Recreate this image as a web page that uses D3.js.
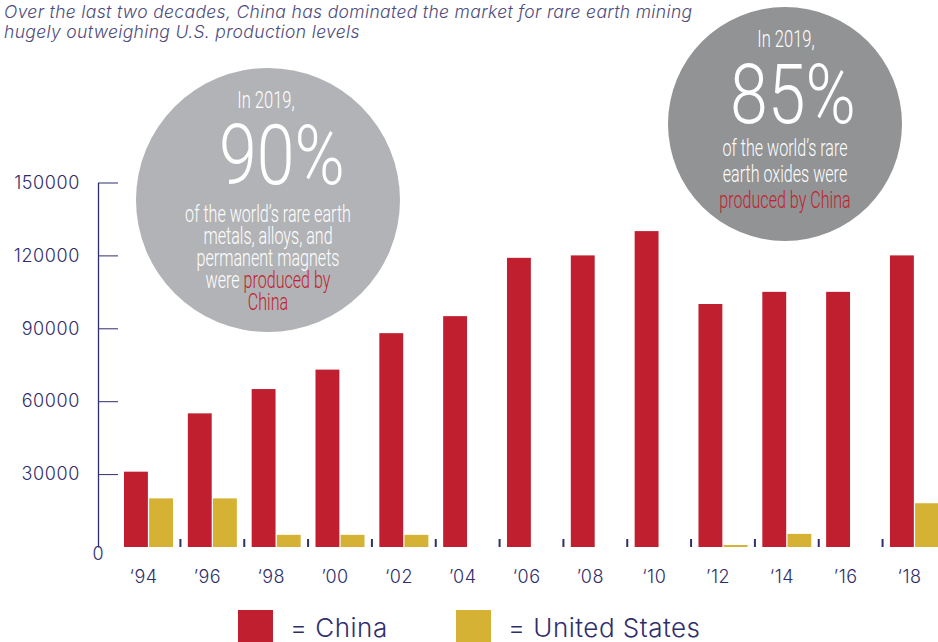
<!DOCTYPE html>
<html>
<head>
<meta charset="utf-8">
<script src="https://cdn.jsdelivr.net/npm/d3@7"></script>
<style>
  body { margin: 0; background: #fff; }
  svg { display: block; }
</style>
</head>
<body>
<svg id="chart" width="938" height="642"></svg>
<script>
// data (tonnes of rare earth production)
const years = ["1994", "1996", "1998", "2000", "2002", "2004", "2006", "2008", "2010", "2012", "2014", "2016", "2018"];
const yearLabels = ["‘94", "’96", "‘98", "’00", "‘02", "’04", "‘06", "’08", "‘10", "’12", "‘14", "’16", "‘18"];
const china = [31000, 55000, 65000, 73000, 88000, 95000, 119000, 120000, 130000, 100000, 105000, 105000, 120000];
const unitedStates = [20000, 20000, 5000, 5000, 5000, 0, 0, 0, 0, 800, 5400, 0, 18000];
const yTicks = [30000, 60000, 90000, 120000, 150000];
const seriesNames = ["China", "United States"];

const navy = "#2f2e6c";
const red = "#c01f2f";
const gold = "#d5b233";

let svg = d3.select("#chart");

let x0 = d3.scaleBand()
    .domain(years)
    .range([124, 939])
    .paddingInner(0.232)
    .paddingOuter(0);

let x1 = d3.scaleBand()
    .domain(seriesNames)
    .range([0, x0.bandwidth()])
    .paddingInner(0.05);

let y = d3.scaleLinear()
    .domain([0, 150000])
    .range([547, 182.5]);

let color = d3.scaleOrdinal()
    .domain(seriesNames)
    .range([red, gold]);

// title
let title = svg.append("text")
    .style("font-family", "Inter, 'Open Sans', sans-serif")
    .style("font-style", "italic")
    .style("font-weight", 300)
    .style("font-size", "17.5px")
    .style("letter-spacing", "0.35px")
    .style("fill", "#4d4b7c");
title.append("tspan").attr("x", 4).attr("y", 18)
    .text("Over the last two decades, China has dominated the market for rare earth mining");
title.append("tspan").attr("x", 4).attr("y", 38)
    .text("hugely outweighing U.S. production levels");

// callout circles
function condensedLine(g, cx, cy, size, sx, parts, weight) {
    let t = g.append("g")
        .attr("transform", `translate(${cx},${cy}) scale(${sx},1)`)
        .append("text")
        .attr("text-anchor", "middle")
        .style("font-family", "Roboto, 'Liberation Sans', sans-serif")
        .style("font-weight", weight || 300)
        .style("font-size", size + "px");
    parts.forEach(function(p) {
        t.append("tspan").style("fill", p[1] || "#fff").text(p[0]);
    });
}

let callouts = svg.append("g");

callouts.append("circle")
    .attr("cx", 268).attr("cy", 200).attr("r", 132)
    .style("fill", "#b2b3b6");
condensedLine(callouts, 266, 108, 23, 0.72, [["In 2019,"]]);
condensedLine(callouts, 282, 184, 83, 0.82, [["90%"]], 300);
condensedLine(callouts, 268, 222, 23, 0.7, [["of the world’s rare earth"]]);
condensedLine(callouts, 268, 244, 23, 0.7, [["metals, alloys, and"]]);
condensedLine(callouts, 268, 266, 23, 0.7, [["permanent magnets"]]);
condensedLine(callouts, 268, 288, 23, 0.7, [["were "], ["produced by", red]]);
condensedLine(callouts, 268, 310, 23, 0.7, [["China", red]]);

callouts.append("circle")
    .attr("cx", 785).attr("cy", 124).attr("r", 117)
    .style("fill", "#919395");
condensedLine(callouts, 786, 47, 23, 0.72, [["In 2019,"]]);
condensedLine(callouts, 793, 123, 83, 0.82, [["85%"]], 300);
condensedLine(callouts, 785, 156, 23, 0.7, [["of the world’s rare"]]);
condensedLine(callouts, 785, 182, 23, 0.7, [["earth oxides were"]]);
condensedLine(callouts, 785, 208, 23, 0.7, [["produced by China", red]]);

// y axis
let yAxisSettings = d3.axisLeft(y)
    .tickValues(yTicks)
    .tickSizeInner(-20)
    .tickSizeOuter(0)
    .tickPadding(18)
    .tickFormat(d3.format("d"));

let yAxis = svg.append("g")
    .attr("transform", "translate(98,0)")
    .call(yAxisSettings);

yAxis.select(".domain").style("stroke", navy).style("stroke-width", 1.3);
yAxis.selectAll(".tick line").style("stroke", navy).style("stroke-width", 1);
yAxis.selectAll(".tick text")
    .style("font-family", "Inter, 'Open Sans', sans-serif")
    .style("font-weight", 300)
    .style("font-size", "18px")
    .style("letter-spacing", "0.6px")
    .style("fill", navy);

svg.append("text")
    .attr("x", 98)
    .attr("y", 560)
    .attr("text-anchor", "middle")
    .style("font-family", "Inter, 'Open Sans', sans-serif")
    .style("font-weight", 300)
    .style("font-size", "18px")
    .style("fill", navy)
    .text("0");

// bars
let rows = years.map(function(yr, i) {
    return { year: yr, values: [
        { key: "China", value: china[i] },
        { key: "United States", value: unitedStates[i] }
    ]};
});

let groups = svg.append("g")
    .selectAll("g")
    .data(rows)
    .join("g")
    .attr("transform", function(d) { return `translate(${x0(d.year)},0)`; });

groups.selectAll("rect")
    .data(function(d) { return d.values.filter(function(v) { return v.value > 0; }); })
    .join("rect")
    .attr("x", function(d) { return x1(d.key); })
    .attr("y", function(d) { return y(d.value); })
    .attr("width", x1.bandwidth())
    .attr("height", function(d) { return y(0) - y(d.value); })
    .style("fill", function(d) { return color(d.key); });

// little separators between year groups
let step = x0.step();
svg.append("g")
    .selectAll("line")
    .data(years.slice(0, -1))
    .join("line")
    .attr("x1", function(d) { return x0(d) + x0.bandwidth() + (step - x0.bandwidth()) / 2; })
    .attr("x2", function(d) { return x0(d) + x0.bandwidth() + (step - x0.bandwidth()) / 2; })
    .attr("y1", y(0) - 8)
    .attr("y2", y(0))
    .style("stroke", navy)
    .style("stroke-width", 2);

// x labels
svg.append("g")
    .selectAll("text")
    .data(years)
    .join("text")
    .attr("x", function(d) { return x0(d) + x0.bandwidth() * 0.4; })
    .attr("y", 583)
    .attr("text-anchor", "middle")
    .style("font-family", "Inter, 'Open Sans', sans-serif")
    .style("font-weight", 300)
    .style("font-size", "18px")
    .style("letter-spacing", "0.5px")
    .style("fill", navy)
    .text(function(d, i) { return yearLabels[i]; });

// legend
let legendX = [238, 456];
let legend = svg.append("g")
    .selectAll("g")
    .data(seriesNames)
    .join("g")
    .attr("transform", function(d, i) { return `translate(${legendX[i]},610)`; });

legend.append("rect")
    .attr("width", 35)
    .attr("height", 40)
    .style("fill", function(d) { return color(d); });

legend.append("text")
    .attr("x", 52)
    .attr("y", 27)
    .style("font-family", "Inter, 'Open Sans', sans-serif")
    .style("font-weight", 300)
    .style("font-size", "26px")
    .style("letter-spacing", "0.5px")
    .style("fill", navy)
    .text(function(d) { return "= " + d; });
</script>
</body>
</html>
